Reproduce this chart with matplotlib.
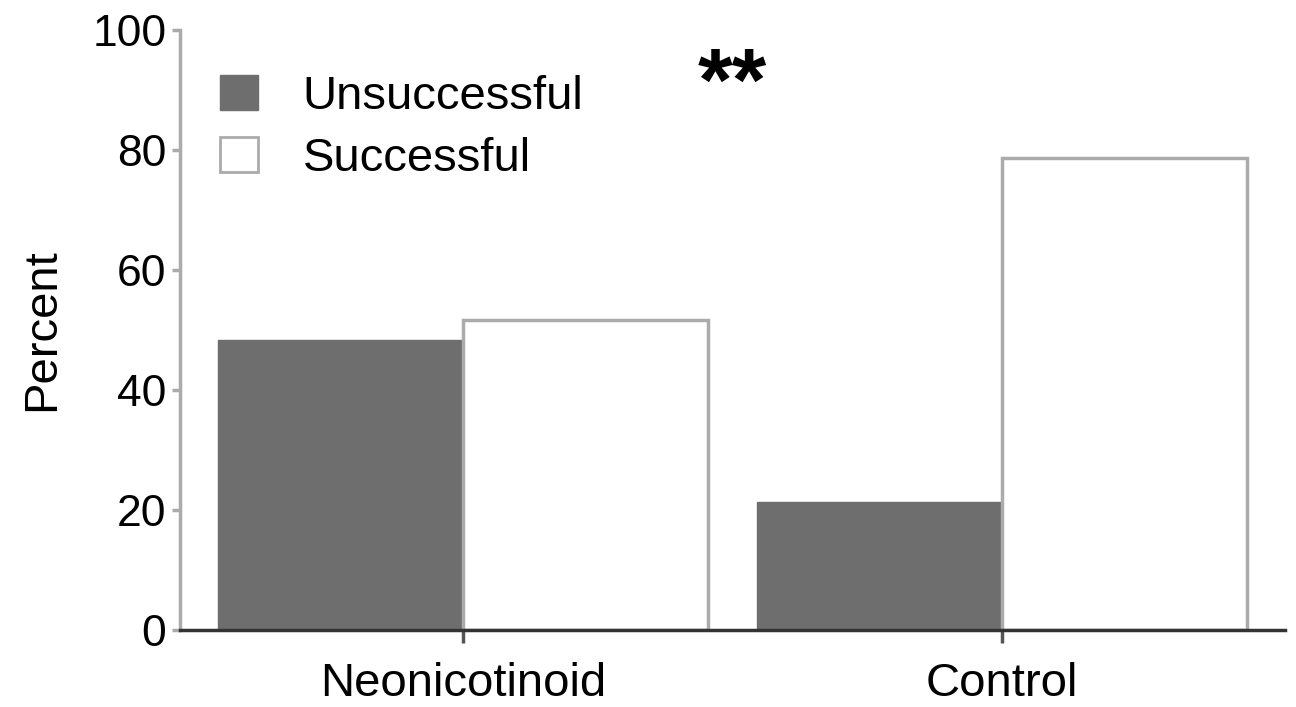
import numpy as np
import matplotlib.pyplot as plt
from matplotlib.patches import Patch

## Data ########################
groups = ['Neonicotinoid', 'Control']
unsuccessful = [48.3, 21.4]
successful = [51.7, 78.6]
series_names = ['Unsuccessful', 'Successful']
y_ticks = [0, 20, 40, 60, 80, 100]

## Style ########################
plt.rcParams['font.family'] = ['Liberation Sans', 'DejaVu Sans']
dark = '#6e6e6e'
edge_gray = '#ababab'
fs = 34

fig = plt.figure(figsize=(12.96, 7.07), dpi=100)
ax = fig.add_axes([0.139, 0.109, 0.8525, 0.8485])

x = np.arange(len(groups))
w = 0.455

ax.bar(x - w/2, unsuccessful, w, color=dark, edgecolor=dark, linewidth=1)
ax.bar(x + w/2, successful, w, color='white', edgecolor=edge_gray, linewidth=2.5)

ax.set_xlim(-0.525, 1.525)
ax.set_ylim(0, 100)
ax.set_yticks(y_ticks)
ax.set_xticks(x)
ax.set_xticklabels(groups, fontsize=fs)
ax.tick_params(axis='y', labelsize=32, length=6, width=2.5, color=edge_gray, pad=4)
ax.tick_params(axis='x', length=9, width=2.5, color='#555555', pad=14)
ax.set_ylabel('Percent', fontsize=fs, labelpad=20)

for s in ['top', 'right']:
    ax.spines[s].set_visible(False)
ax.spines['left'].set_color(edge_gray)
ax.spines['left'].set_linewidth(2.5)
ax.spines['bottom'].set_color('#333333')
ax.spines['bottom'].set_linewidth(2.5)

handles = [Patch(facecolor=dark, edgecolor=dark),
           Patch(facecolor='white', edgecolor=edge_gray, linewidth=2)]
ax.legend(handles, series_names, loc='upper left', bbox_to_anchor=(0.036, 0.925),
          frameon=False, fontsize=fs, handlelength=0.8, handleheight=0.75,
          handletextpad=0.95, labelspacing=0.38, borderpad=0, borderaxespad=0)

ax.text(0.5, 90.5, '**', fontsize=64, fontweight='bold', ha='center', va='center')

fig.savefig('out.png', dpi=100)
